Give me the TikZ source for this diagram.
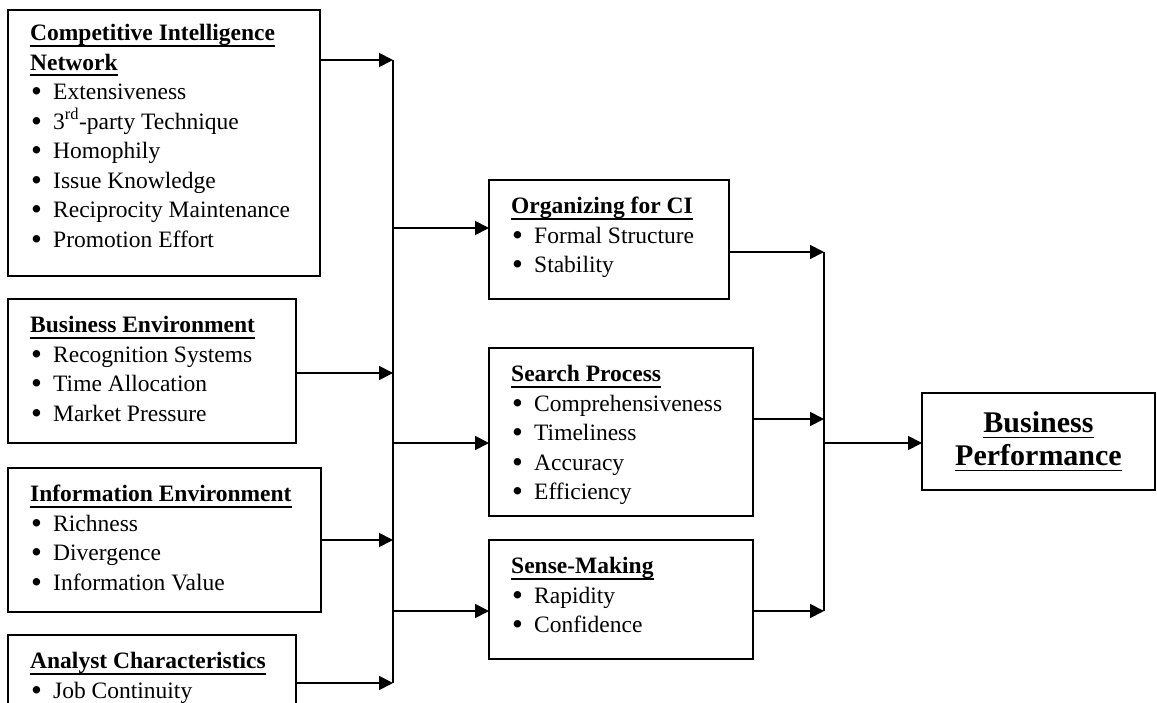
\documentclass[tikz,border=0pt]{standalone}
\usepackage{fontspec}
\setmainfont{Liberation Serif}
\usetikzlibrary{arrows.meta}
\newsavebox{\headbox}
\newcommand{\headline}[1]{\sbox{\headbox}{\textbf{#1}}\rlap{\usebox{\headbox}}\rule[-6pt]{\wd\headbox}{1.8pt}}
\newcommand{\bitem}[1]{\hspace*{1pt}\makebox[22pt][l]{\raisebox{-2pt}{\fontsize{31}{31}\selectfont\textbullet}}#1}
\tikzset{
  frame/.style ={draw,line width=1.8pt,anchor=north west,inner sep=0pt,outer sep=0pt},
  items/.style ={anchor=north west,align=left,inner xsep=22pt,inner ysep=17pt,
                 font=\fontsize{23.5}{29.5}\selectfont},
  flow/.style  ={-{Triangle[length=14pt,width=14pt]},line width=1.8pt},
  bus/.style   ={line width=1.8pt}
}
\begin{document}
\begin{tikzpicture}[x=1pt,y=-1pt]
  \useasboundingbox (0,0) rectangle (1157,703);
  \clip (0,0) rectangle (1157,703);
  % antecedents
  \node[frame,minimum width=312pt,minimum height=266pt] (ci) at (8,10) {};
  \node[items,inner ysep=14pt] (ci-t) at (ci.north west)
    {\headline{Competitive Intelligence}\\ \headline{Network}\\
     \bitem{Extensiveness}\\ \bitem{3\textsuperscript{rd}-party Technique}\\
     \bitem{Homophily}\\ \bitem{Issue Knowledge}\\
     \bitem{Reciprocity Maintenance}\\ \bitem{Promotion Effort}};
  \node[frame,minimum width=288pt,minimum height=144pt] (be) at (8,299) {};
  \node[items] (be-t) at (be.north west)
    {\headline{Business Environment}\\ \bitem{Recognition Systems}\\
     \bitem{Time Allocation}\\ \bitem{Market Pressure}};
  \node[frame,minimum width=313pt,minimum height=144pt] (ie) at (8,468) {};
  \node[items] (ie-t) at (ie.north west)
    {\headline{Information Environment}\\ \bitem{Richness}\\
     \bitem{Divergence}\\ \bitem{Information Value}};
  \node[frame,minimum width=288pt,minimum height=120pt] (ac) at (8,635) {};
  \node[items] (ac-t) at (ac.north west)
    {\headline{Analyst Characteristics}\\ \bitem{Job Continuity}};
  % CI activities
  \node[frame,minimum width=240pt,minimum height=119pt] (org) at (489,180) {};
  \node[items] (org-t) at (org.north west)
    {\headline{Organizing for CI}\\ \bitem{Formal Structure}\\ \bitem{Stability}};
  \node[frame,minimum width=264pt,minimum height=168pt] (srch) at (489,348) {};
  \node[items] (srch-t) at (srch.north west)
    {\headline{Search Process}\\ \bitem{Comprehensiveness}\\ \bitem{Timeliness}\\
     \bitem{Accuracy}\\ \bitem{Efficiency}};
  \node[frame,minimum width=264pt,minimum height=119pt] (sense) at (489,540) {};
  \node[items] (sense-t) at (sense.north west)
    {\headline{Sense-Making}\\ \bitem{Rapidity}\\ \bitem{Confidence}};
  % outcome
  \node[frame,minimum width=233pt,minimum height=97pt,align=center,
        font=\fontsize{30}{33}\selectfont] (bp) at (922,393)
    {\headline{Business}\\ \headline{Performance}};
  % left bus
  \coordinate (lb1) at (393,60);
  \coordinate (lb2) at (393,373);
  \coordinate (lb3) at (393,540);
  \coordinate (lb4) at (393,683);
  \coordinate (lo1) at (393,228);
  \coordinate (lo2) at (393,443);
  \coordinate (lo3) at (393,611);
  \draw[bus] (lb1) -- (lb4);
  \draw[flow] (ci.east |- lb1) -- (lb1);
  \draw[flow] (be.east |- lb2) -- (lb2);
  \draw[flow] (ie.east |- lb3) -- (lb3);
  \draw[flow] (ac.east |- lb4) -- (lb4);
  \draw[flow] (lo1) -- (org.west |- lo1);
  \draw[flow] (lo2) -- (srch.west |- lo2);
  \draw[flow] (lo3) -- (sense.west |- lo3);
  % right bus
  \coordinate (rb1) at (824,252);
  \coordinate (rb2) at (824,419);
  \coordinate (rb3) at (824,611);
  \coordinate (ro) at (824,443);
  \draw[bus] (rb1) -- (rb3);
  \draw[flow] (org.east |- rb1) -- (rb1);
  \draw[flow] (srch.east |- rb2) -- (rb2);
  \draw[flow] (sense.east |- rb3) -- (rb3);
  \draw[flow] (ro) -- (bp.west |- ro);
\end{tikzpicture}
\end{document}
